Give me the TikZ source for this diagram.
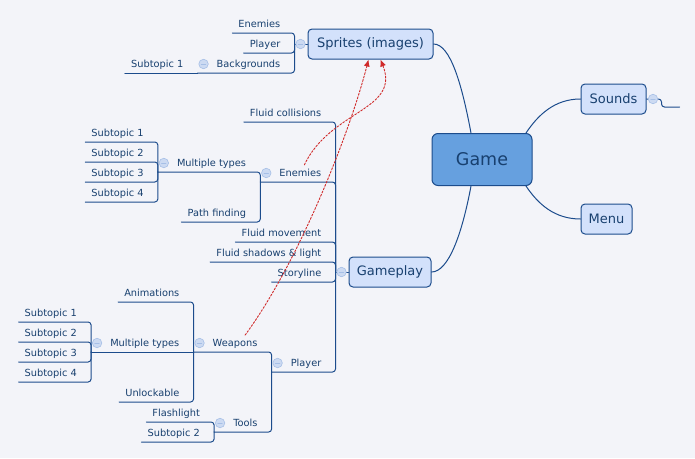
\documentclass[tikz,border=0pt]{standalone}
\usepackage{fontspec}
\setmainfont{DejaVu Sans}
\usetikzlibrary{arrows.meta}
\definecolor{paper}{HTML}{F3F4F9}
\definecolor{ink}{HTML}{1C4C8C}
\definecolor{txt}{HTML}{18406F}
\definecolor{gamefill}{HTML}{66A0DF}
\definecolor{subfill}{HTML}{D3E1FB}
\definecolor{knobfill}{HTML}{CCDAF2}
\definecolor{knobline}{HTML}{A6BFE6}
\definecolor{rel}{HTML}{D02A2A}
\tikzset{
  central/.style={draw=ink, fill=gamefill, line width=1pt, rounded corners=6pt, text=txt,
    font=\fontsize{17.5}{20}\selectfont, minimum width=100pt, minimum height=52pt},
  mainbox/.style={draw=ink, fill=subfill, line width=1pt, rounded corners=4pt, text=txt,
    font=\fontsize{13}{15}\selectfont, minimum height=30pt, inner xsep=0pt},
  topic/.style={anchor=south east, inner xsep=0pt, inner ysep=0pt, text depth=5.3pt, text=txt,
    font=\fontsize{9.8}{12}\selectfont},
  branch/.style={draw=ink, line width=1pt, rounded corners=3pt},
  knob/.style={circle, fill=knobfill, draw=knobline, line width=0.6pt, minimum size=9.5pt, inner sep=0pt,
    path picture={\draw[knobline, line width=0.8pt] ([xshift=-2.2pt]path picture bounding box.center)
      -- ([xshift=2.2pt]path picture bounding box.center);}},
  relation/.style={draw=rel, line width=0.9pt, dash pattern=on 2pt off 1.6pt, -{Latex[length=7pt,width=6pt]}}
}
\begin{document}
\begin{tikzpicture}[x=1pt, y=-1pt, line join=round, line cap=round]
\fill[paper] (0,0) rectangle (695,458);
\useasboundingbox (0,0) rectangle (695,458);
% central and main topics
\node[central] (game) at (482,159.5) {Game};
\node[mainbox, minimum width=125pt] (sprites) at (370.5,44) {Sprites (images)};
\node[mainbox, minimum width=82pt] (gameplay) at (390,272) {Gameplay};
\node[mainbox, minimum width=65pt] (sounds) at (613.5,99) {Sounds};
\node[mainbox, minimum width=51pt] (menu) at (606.5,219) {Menu};
\draw[branch] (sprites.east) .. controls +(17,0) and +(-9,-48) .. ([xshift=-11pt]game.north);
\draw[branch] (gameplay.east) .. controls +(17,0) and +(-9,48) .. ([xshift=-11pt]game.south);
\draw[branch] ([xshift=44pt]game.north) .. controls +(12,-18) and +(-26,0) .. (sounds.west);
\draw[branch] ([xshift=44pt]game.south) .. controls +(12,18) and +(-26,0) .. (menu.west);
% bracket points
\coordinate (spr) at ([xshift=-13pt]sprites.west);
\coordinate (gp) at ([xshift=-13pt]gameplay.west);
\coordinate (snd) at ([xshift=15pt]sounds.east);
\coordinate (sndEnd) at ([shift={(18pt,-8pt)}]snd);
\draw[branch] (sprites.west) -- (spr);
\draw[branch] (gameplay.west) -- (gp);
\draw[branch] (sounds.east) -- (snd) |- (sndEnd);
% sprites
\path (spr) ++(-14,-11) node[topic] (spEn) {Enemies}
      (spr) ++(-14,9) node[topic] (spPl) {Player}
      (spr) ++(-14,29) node[topic] (spBg) {Backgrounds};
\coordinate (bgL) at ([xshift=-19pt]spBg.south west);
\path (bgL) ++(-14,0) node[topic] (bgS1) {Subtopic 1};
% gameplay
\path (gp) ++(-14,-150) node[topic] (gpFc) {Fluid collisions}
      (gp) ++(-14,-90) node[topic] (gpEn) {Enemies}
      (gp) ++(-14,-30) node[topic] (gpFm) {Fluid movement}
      (gp) ++(-14,-10) node[topic] (gpFs) {Fluid shadows \& light}
      (gp) ++(-14,10) node[topic] (gpSt) {Storyline}
      (gp) ++(-14,100) node[topic] (gpPl) {Player};
\coordinate (enL) at ([xshift=-19pt]gpEn.south west);
\coordinate (plL) at ([xshift=-19pt]gpPl.south west);
\path (enL) ++(-14,-10) node[topic] (enMt) {Multiple types}
      (enL) ++(-14,40) node[topic] (enPf) {Path finding};
\coordinate (emL) at ([xshift=-19pt]enMt.south west);
\foreach \i/\dy in {1/-30,2/-10,3/10,4/30}
  \path (emL) ++(-14,\dy) node[topic] (em\i) {Subtopic \i};
\path (plL) ++(-14,-20) node[topic] (plWe) {Weapons}
      (plL) ++(-14,60) node[topic] (plTo) {Tools};
\coordinate (weL) at ([xshift=-19pt]plWe.south west);
\coordinate (toL) at ([xshift=-19pt]plTo.south west);
\path (weL) ++(-14,-50) node[topic] (weAn) {Animations}
      (weL) ++(-14,0) node[topic] (weMt) {Multiple types}
      (weL) ++(-14,50) node[topic] (weUn) {Unlockable};
\coordinate (wmL) at ([xshift=-19pt]weMt.south west);
\foreach \i/\dy in {1/-30,2/-10,3/10,4/30}
  \path (wmL) ++(-14,\dy) node[topic] (wm\i) {Subtopic \i};
\path (toL) ++(-14,-10) node[topic] (toFl) {Flashlight}
      (toL) ++(-14,10) node[topic] (toS2) {Subtopic 2};
% underlines
\foreach \p/\c in {spr/spEn, spr/spPl, gp/gpFc, gp/gpFm, gp/gpFs, gp/gpSt, enL/enPf,
    emL/em1, emL/em2, emL/em3, emL/em4, weL/weAn, weL/weUn,
    wmL/wm1, wmL/wm2, wmL/wm3, wmL/wm4, toL/toFl, toL/toS2}
  \draw[branch] (\p) |- ([xshift=-6pt]\c.south west);
\foreach \p/\c in {spr/bgL, gp/enL, gp/plL, enL/emL, plL/weL, plL/toL}
  \draw[branch] (\p) |- (\c);
\draw[branch] (bgL) -- ([xshift=-6pt]bgS1.south west);
\draw[branch] (weL) -- (wmL);
% collapse knobs
\foreach \t/\n in {spBg/kBg, gpEn/kEn, enMt/kEm, gpPl/kPl, plWe/kWe, weMt/kWm, plTo/kTo}
  \node[knob] (\n) at ([shift={(-13pt,9pt)}]\t.south west) {};
\node[knob] (kSpr) at ([xshift=-7pt]sprites.west) {};
\node[knob] (kGp) at ([xshift=-7pt]gameplay.west) {};
\node[knob] (kSnd) at ([xshift=6.5pt]sounds.east) {};
% relations
\draw[relation] ([shift={(4pt,4pt)}]gpEn.north) .. controls +(26,-55) and +(20,51) .. ([xshift=10pt]sprites.south);
\draw[relation] ([shift={(10pt,4pt)}]plWe.north) .. controls +(55,-75) and +(-18,71) .. ([xshift=-2pt]sprites.south);
\end{tikzpicture}
\end{document}
